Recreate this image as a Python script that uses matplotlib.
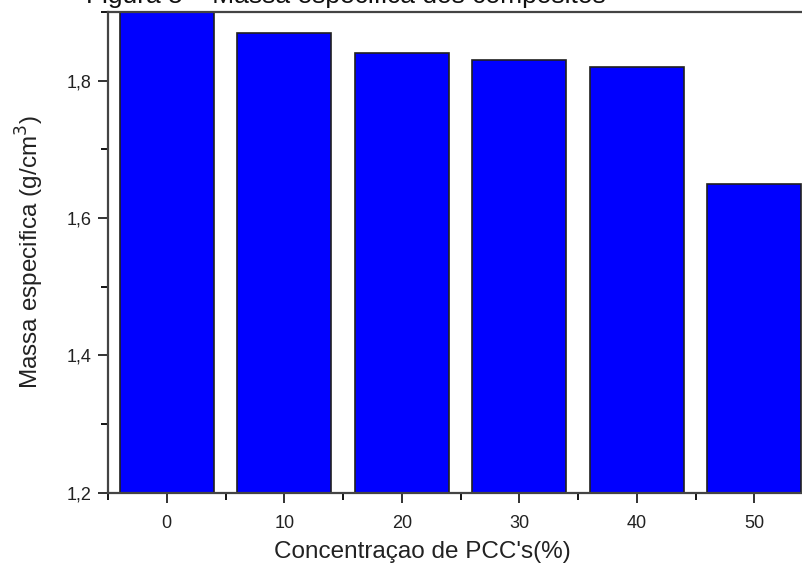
import matplotlib
matplotlib.use("Agg")
import matplotlib.pyplot as plt
from matplotlib.ticker import MultipleLocator, FuncFormatter

plt.rcParams['font.family'] = ['Liberation Sans', 'DejaVu Sans']

concentracao = [0, 10, 20, 30, 40, 50]
massa_especifica = [1.92, 1.87, 1.84, 1.83, 1.82, 1.65]
x_ticks = [0, 10, 20, 30, 40, 50]
y_ticks = [1.2, 1.4, 1.6, 1.8]

W, H = 802, 565
fig = plt.figure(figsize=(W / 100, H / 100), dpi=100)
left = 108 / W
right = 813 / W
top = 1 - 12 / H
bottom = 1 - 492.5 / H
ax = fig.add_axes([left, bottom, right - left, top - bottom])

ax.bar(concentracao, massa_especifica, width=8, color='#0000ff',
       edgecolor='#202020', linewidth=1.2, zorder=2)

ax.set_xlim(-5, 55)
ax.set_ylim(1.2, 1.9)
ax.set_xticks(x_ticks)
ax.set_yticks(y_ticks)
ax.xaxis.set_minor_locator(MultipleLocator(5))
ax.yaxis.set_minor_locator(MultipleLocator(0.1))
ax.yaxis.set_major_formatter(FuncFormatter(lambda v, p: f"{v:.1f}".replace('.', ',')))

ax.tick_params(axis='both', which='major', direction='out', length=7, width=1.3,
               labelsize=13, colors='#222222', pad=5)
ax.tick_params(axis='both', which='minor', direction='out', length=5, width=1.3)
ax.tick_params(axis='x', which='both', top=False)
ax.tick_params(axis='y', which='both', right=False)
ax.tick_params(axis='x', which='major', pad=9)

for s in ax.spines.values():
    s.set_linewidth(1.6)
    s.set_color('#444444')

ax.set_xlabel("Concentraçao de PCC's(%)", fontsize=17.5, color='#222222')
ax.set_ylabel("Massa especifica (g/cm$^3$)", fontsize=17.5, color='#222222')
ax.xaxis.set_label_coords((422 - 108) / (813 - 108), -(552 - 492.5) / 480.5)
ax.yaxis.set_label_coords(-(108 - 30) / 705, 0.5)
ax.xaxis.label.set_va('center')
ax.yaxis.label.set_va('center')

fig.text(86 / W, 1 - 2.5 / H, "Figura 5 – Massa especifica dos compósitos",
         fontsize=19, va='baseline', ha='left', color='#111111')

fig.savefig("out.png", dpi=100)
